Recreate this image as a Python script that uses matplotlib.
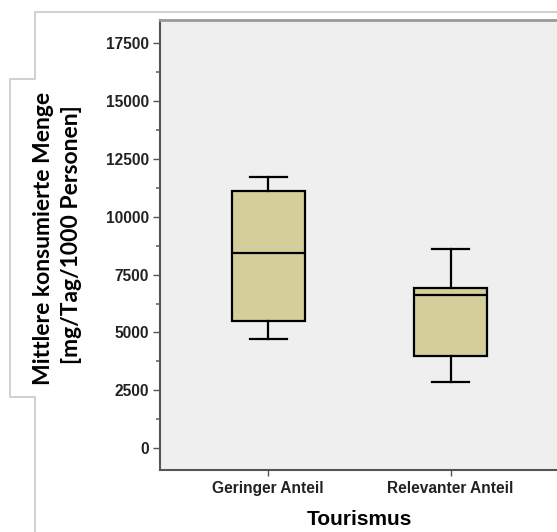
import matplotlib
matplotlib.use("Agg")
import matplotlib.pyplot as plt
from matplotlib.lines import Line2D
from matplotlib.ticker import MultipleLocator

# Werte
gruppen = ["Geringer Anteil", "Relevanter Anteil"]
whisker_unten = [4700, 2870]
q1 = [5490, 3975]
median = [8420, 6615]
q3 = [11130, 6930]
whisker_oben = [11735, 8620]

stats = []
for i, name in enumerate(gruppen):
    stats.append({"label": name, "whislo": whisker_unten[i], "q1": q1[i],
                  "med": median[i], "q3": q3[i], "whishi": whisker_oben[i],
                  "fliers": []})

fig = plt.figure(figsize=(5.57, 5.32), dpi=100)
ax = fig.add_axes([0.2869, 0.1165, 0.7185, 0.8452])
ax.set_facecolor("#EFEFEF")

linie = dict(color="black", linewidth=1.6)
ax.bxp(stats, positions=[1, 2], widths=0.4, patch_artist=True,
       boxprops=dict(facecolor="#D3CE9A", edgecolor="black", linewidth=1.6),
       medianprops=linie, whiskerprops=linie, capprops=linie,
       capwidths=0.2, showfliers=False)

ax.set_xlim(0.405, 2.6)
ax.set_ylim(-950, 18500)
ax.yaxis.set_major_locator(MultipleLocator(2500))
ax.yaxis.set_minor_locator(MultipleLocator(1250))

for s in ["left", "bottom"]:
    ax.spines[s].set_color("#555555")
    ax.spines[s].set_linewidth(1.5)
ax.spines["top"].set_color("#999999")
ax.spines["top"].set_linewidth(2)
ax.spines["right"].set_visible(False)

ax.tick_params(axis="y", which="major", length=5, width=1, color="#555555", pad=3)
ax.tick_params(axis="y", which="minor", length=3, width=1.2, color="#666666")
ax.tick_params(axis="x", length=4, width=1, color="#555555", pad=4)
for lab in ax.get_yticklabels() + ax.get_xticklabels():
    lab.set_fontfamily("Liberation Sans")
    lab.set_fontweight("bold")
    lab.set_fontsize(11.2)
    lab.set_color("#222222")

ax.set_xlabel("Tourismus", fontsize=15, fontweight="bold",
              fontfamily="Liberation Sans", labelpad=10)

# Rahmen um die Achsenbeschriftung (Stufenform wie im Original)
W, H = 557.0, 532.0
px = [(557, 12.3), (35, 12.3), (35, 79), (10, 79), (10, 397), (35, 397), (35, 532)]
xs = [p[0] / W for p in px]
ys = [1 - p[1] / H for p in px]
fig.add_artist(Line2D(xs, ys, color="#C8C8C8", linewidth=1.2))

fig.text(44 / W, 1 - 238 / H, "Mittlere konsumierte Menge", rotation=90,
         ha="center", va="center", fontsize=16.5, fontweight="bold", fontfamily="Lato")
fig.text(72 / W, 1 - 235 / H, "[mg/Tag/1000 Personen]", rotation=90,
         ha="center", va="center", fontsize=16.5, fontweight="bold", fontfamily="Lato")

fig.savefig("out.png", dpi=100)
